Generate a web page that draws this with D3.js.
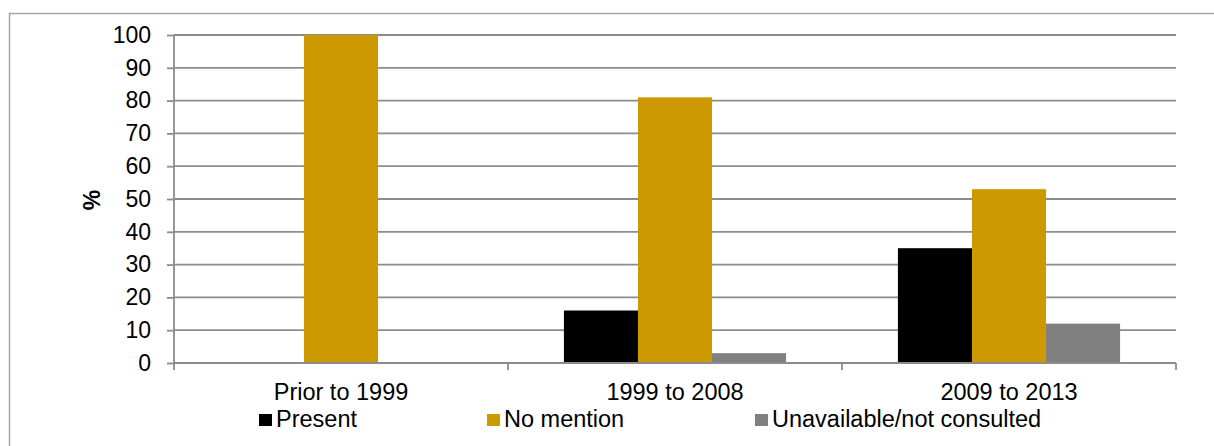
<!DOCTYPE html>
<html>
<head>
<meta charset="utf-8">
<script src="https://cdn.jsdelivr.net/npm/d3@7"></script>
<style>
  html, body { margin: 0; padding: 0; background: #fff; }
  svg { display: block; }
  text { font-family: "Liberation Sans", Arial, sans-serif; fill: #000; }
</style>
</head>
<body>
<svg id="chart" width="1214" height="446"></svg>
<script>
const categories = ["Prior to 1999", "1999 to 2008", "2009 to 2013"];
const seriesNames = ["Present", "No mention", "Unavailable/not consulted"];
const present = [0, 16, 35];
const noMention = [100, 81, 53];
const unavailable = [0, 3, 12];
const yTicks = [0, 10, 20, 30, 40, 50, 60, 70, 80, 90, 100];
const colors = ["#000000", "#CC9900", "#808080"];

(function () {
const seriesValues = [present, noMention, unavailable];
const svg = d3.select("#chart");
const W = 1214, H = 446;

// outer border
svg.append("rect").attr("x", 9.5).attr("y", 13.5).attr("width", W).attr("height", H)
  .attr("fill", "none").attr("stroke", "#a6a6a6").attr("stroke-width", 1.5);

const pLeft = 174, pRight = 1176, pTop = 35, pBottom = 363;

const x0 = d3.scaleBand().domain(categories).range([pLeft, pRight]).paddingInner(0).paddingOuter(0);
const x1 = d3.scaleBand().domain(seriesNames).range([0, x0.bandwidth()]).paddingInner(0).paddingOuter(0.755);
const y = d3.scaleLinear().domain([0, 100]).range([pBottom, pTop]);

// gridlines
svg.append("g").selectAll("line").data(yTicks.filter(d => d > 0)).join("line")
  .attr("x1", pLeft).attr("x2", pRight)
  .attr("y1", d => y(d)).attr("y2", d => y(d))
  .attr("stroke", "#8c8c8c").attr("stroke-width", 1.8);

// bars
const rows = [];
categories.forEach((c, i) => seriesNames.forEach((s, j) => rows.push({c, s, v: seriesValues[j][i], col: colors[j]})));
svg.append("g").selectAll("rect").data(rows.filter(d => d.v > 0)).join("rect")
  .attr("x", d => x0(d.c) + x1(d.s))
  .attr("width", x1.bandwidth())
  .attr("y", d => y(d.v))
  .attr("height", d => y(0) - y(d.v))
  .attr("fill", d => d.col);

// y axis
const yAxis = d3.axisLeft(y).tickValues(yTicks).tickSize(7).tickPadding(16);
const gy = svg.append("g").attr("transform", `translate(${pLeft},0)`).call(yAxis);
gy.select(".domain").attr("stroke", "#8c8c8c").attr("stroke-width", 1.8).attr("d", `M0,${pTop}V${pBottom}`);
gy.selectAll(".tick line").attr("stroke", "#8c8c8c").attr("stroke-width", 1.8);
gy.selectAll(".tick text").style("font-size", "23px").style("font-family", "'Liberation Sans', Arial, sans-serif").attr("fill", "#000");

// x axis
const gx = svg.append("g").attr("transform", `translate(0,${pBottom})`);
gx.append("line").attr("x1", pLeft).attr("x2", pRight).attr("y1", 0).attr("y2", 0)
  .attr("stroke", "#8c8c8c").attr("stroke-width", 1.8);
const bounds = categories.map(c => x0(c)).concat([pRight]);
gx.selectAll("line.t").data(bounds).join("line").attr("class", "t")
  .attr("x1", d => d).attr("x2", d => d).attr("y1", 0).attr("y2", 7)
  .attr("stroke", "#8c8c8c").attr("stroke-width", 1.8);
gx.selectAll("text").data(categories).join("text")
  .attr("x", d => x0(d) + x0.bandwidth() / 2).attr("y", 37)
  .attr("text-anchor", "middle").style("font-size", "23.5px").text(d => d);

// y label
svg.append("text").attr("transform", "translate(100,200) rotate(-90)")
  .attr("text-anchor", "middle").style("font-size", "23px").style("font-weight", "bold").text("%");

// legend
const legendX = [259, 487, 755];
const lg = svg.append("g");
seriesNames.forEach((s, j) => {
  lg.append("rect").attr("x", legendX[j]).attr("y", 414).attr("width", 13).attr("height", 12).attr("fill", colors[j]);
  lg.append("text").attr("x", legendX[j] + 17).attr("y", 427).style("font-size", "23.5px").text(s);
});
})();
</script>
</body>
</html>
